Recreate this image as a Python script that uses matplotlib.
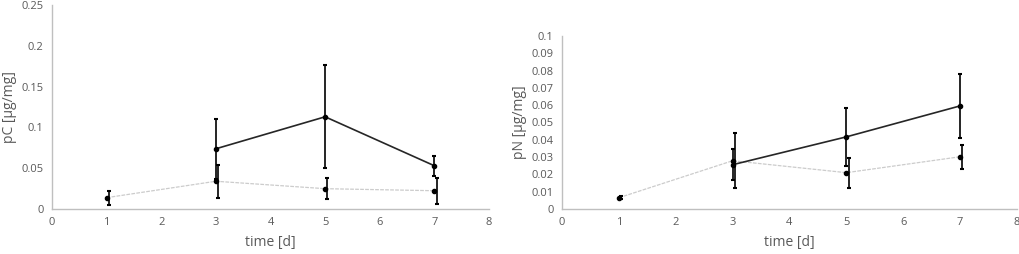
import matplotlib
matplotlib.use("Agg")
import matplotlib.pyplot as plt

plt.rcParams['font.family'] = ['Open Sans', 'DejaVu Sans']

days = [1, 3, 5, 7]

# Left panel: pC
pc_dark_x = [3, 5, 7]
pc_dark = [0.0738, 0.113, 0.053]
pc_dark_err = [0.037, 0.063, 0.012]
pc_light_x = [1, 3, 5, 7]
pc_light = [0.0139, 0.034, 0.0249, 0.0224]
pc_light_err = [0.0085, 0.020, 0.013, 0.016]

# Right panel: pN
pn_dark_x = [3, 5, 7]
pn_dark = [0.0256, 0.0417, 0.0596]
pn_dark_err = [0.0088, 0.0167, 0.0185]
pn_light_x = [1, 3, 5, 7]
pn_light = [0.0065, 0.0279, 0.021, 0.0302]
pn_light_err = [0.001, 0.016, 0.0087, 0.0069]

xticks = [0, 1, 2, 3, 4, 5, 6, 7, 8]
pc_yticks = [0, 0.05, 0.1, 0.15, 0.2, 0.25]
pn_yticks = [0, 0.01, 0.02, 0.03, 0.04, 0.05, 0.06, 0.07, 0.08, 0.09, 0.1]

W, H = 1019, 254
fig = plt.figure(figsize=(W / 100, H / 100), dpi=100)

tick_color = '#595959'
spine_color = '#bfbfbf'
offset = 0.04


def fmt(v):
    return '%g' % v


def panel(rect, dx, dy, de, lx, ly, le, yticks, ylim, ylabel):
    ax = fig.add_axes(rect)
    ax.plot(lx, ly, color='#cccccc', lw=0.9, ls=(0, (3, 1)), zorder=2)
    ax.plot(dx, dy, color='#262626', lw=1.2, zorder=3)
    ax.errorbar([x + offset for x in lx], ly, yerr=le, fmt='none', ecolor='black',
                elinewidth=1.2, capsize=1.5, capthick=1.5, zorder=4)
    ax.errorbar(dx, dy, yerr=de, fmt='none', ecolor='black',
                elinewidth=1.2, capsize=1.5, capthick=1.5, zorder=4)
    ax.plot(lx, ly, ls='none', marker='o', ms=3, color='black', zorder=5)
    ax.plot(dx, dy, ls='none', marker='o', ms=3, color='black', zorder=5)
    ax.set_xlim(0, 8)
    ax.set_ylim(*ylim)
    ax.set_xticks(xticks)
    ax.set_xticklabels([str(t) for t in xticks])
    ax.set_yticks(yticks)
    ax.set_yticklabels([fmt(t) for t in yticks])
    ax.tick_params(length=0, labelsize=8, colors=tick_color, pad=6)
    for s in ['top', 'right']:
        ax.spines[s].set_visible(False)
    for s in ['left', 'bottom']:
        ax.spines[s].set_color(spine_color)
        ax.spines[s].set_linewidth(1)
    ax.set_xlabel('time [d]', fontsize=10, color=tick_color, labelpad=5)
    ax.set_ylabel(ylabel, fontsize=10, color=tick_color, labelpad=3)
    ax.patch.set_alpha(0)
    return ax


# left axes: x 52..489 px, y 5..209 px
panel([52 / W, (H - 209) / H, (489 - 52) / W, (209 - 5) / H],
      pc_dark_x, pc_dark, pc_dark_err, pc_light_x, pc_light, pc_light_err,
      pc_yticks, (0, 0.25), 'pC [µg/mg]')
# right axes: x 562..1017 px, y 36..209 px
panel([562 / W, (H - 209) / H, (1017 - 562) / W, (209 - 36) / H],
      pn_dark_x, pn_dark, pn_dark_err, pn_light_x, pn_light, pn_light_err,
      pn_yticks, (0, 0.1), 'pN [µg/mg]')

fig.savefig('out.png', dpi=100)
